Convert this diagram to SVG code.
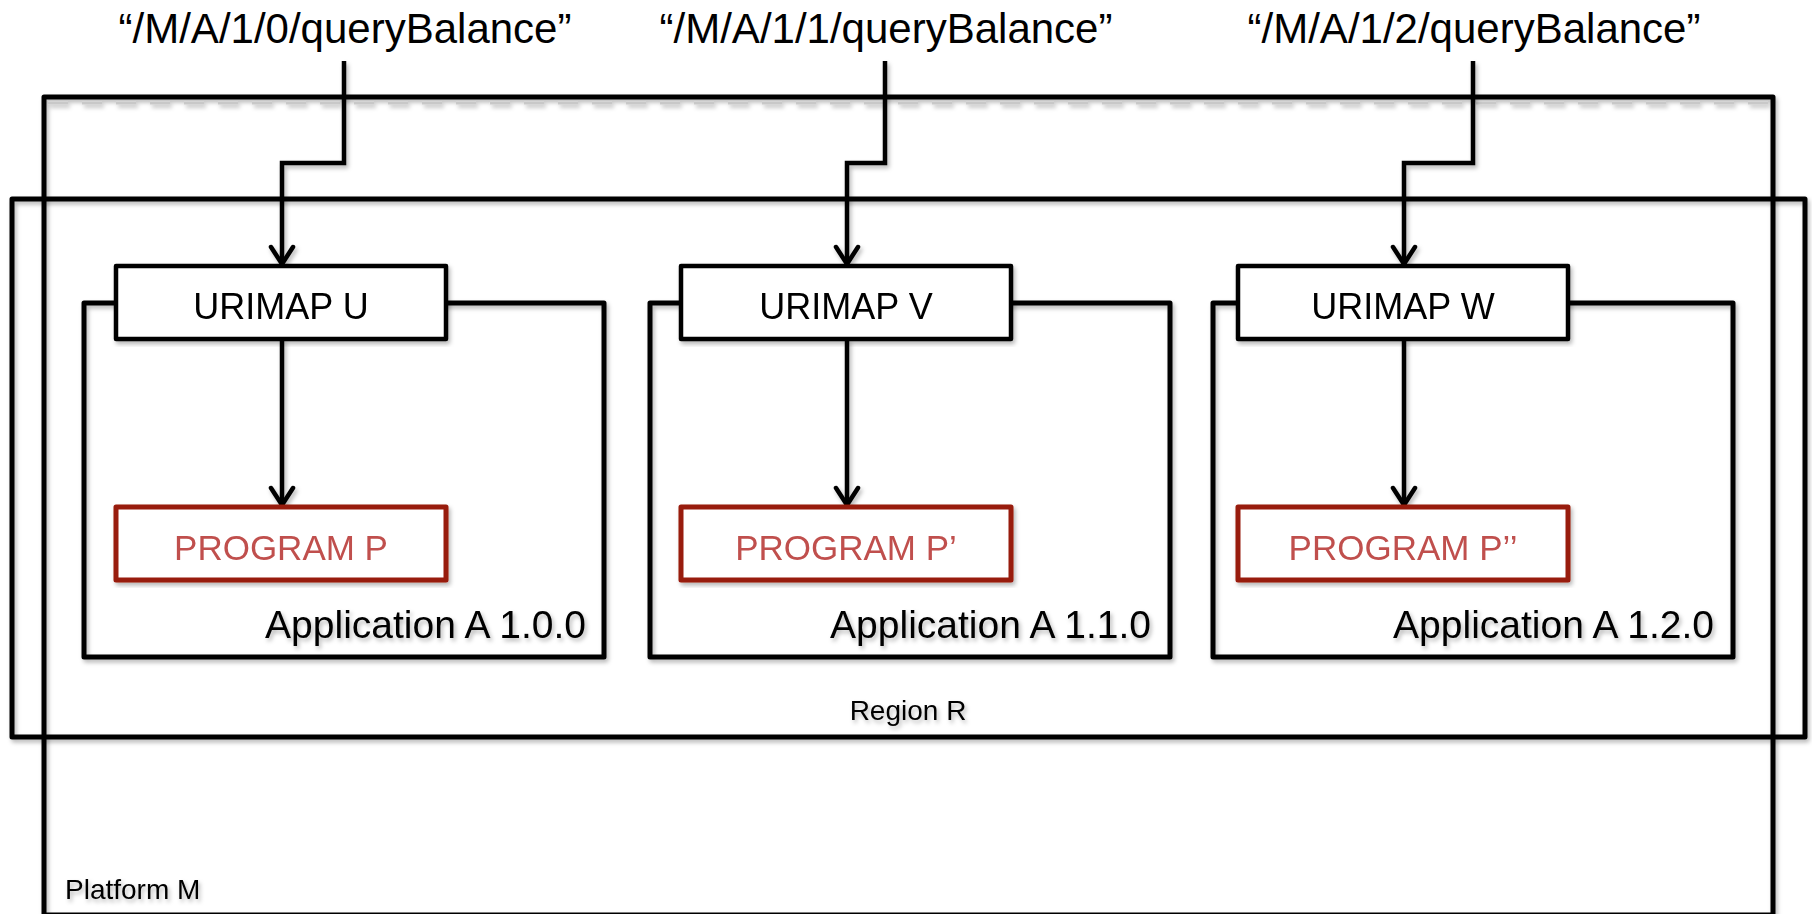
<svg xmlns="http://www.w3.org/2000/svg" width="1812" height="914" viewBox="0 0 1812 914">
  <style>
    text { font-family: "Liberation Sans", Arial, sans-serif; fill: #000; }
    .frame { fill: none; stroke: #000; stroke-width: 5; stroke-linejoin: round; }
    .app { fill: none; stroke: #000; stroke-width: 5; stroke-linejoin: round; }
    .uri { fill: #fff; stroke: #000; stroke-width: 4.5; stroke-linejoin: round; }
    .prog { fill: #fff; stroke: #981a0c; stroke-width: 5; stroke-linejoin: round; }
    .conn { fill: none; stroke: #000; stroke-width: 4.5; stroke-linejoin: miter; }
    .url { font-size: 42px; text-anchor: middle; }
    .uritxt { font-size: 36px; text-anchor: middle; }
    .progtxt { font-size: 35px; text-anchor: middle; fill: #c0504d; }
    .apptxt { font-size: 39px; text-anchor: end; }
    .small { font-size: 28px; }
    .sh { filter: url(#shadow); }
  </style>
  <defs>
    <filter id="shadow" x="-5%" y="-5%" width="110%" height="115%">
      <feDropShadow dx="2" dy="3" stdDeviation="2" flood-color="#000" flood-opacity="0.28"/>
    </filter>
    <marker id="arrow" markerUnits="userSpaceOnUse" viewBox="-22 -14 26 28" refX="0" refY="0" markerWidth="26" markerHeight="28" orient="auto">
      <path d="M-17,-11 L0,0 L-17,11" fill="none" stroke="#000" stroke-width="4.5" stroke-linecap="round" stroke-linejoin="miter"/>
    </marker>
  </defs>
  <rect width="1812" height="914" fill="#fff"/>

  <g id="platform-m" class="sh">
    <line x1="48" y1="103" x2="1770" y2="103" stroke="#c8c8c8" stroke-width="3" stroke-dasharray="20 14"/>
    <rect class="frame" x="44" y="97" width="1729" height="818"/>
    <text class="small" x="65" y="899">Platform M</text>
  </g>

  <g id="region-r" class="sh">
    <rect class="frame" x="12" y="199" width="1793" height="538"/>
    <text class="small" x="908" y="720" text-anchor="middle">Region R</text>
  </g>

  <g id="app-a-100" class="sh">
    <rect class="app" x="84" y="303" width="520" height="354"/>
    <text class="apptxt" x="586" y="638">Application A 1.0.0</text>
  </g>
  <g id="app-a-110" class="sh">
    <rect class="app" x="650" y="303" width="520" height="354"/>
    <text class="apptxt" x="1151" y="638">Application A 1.1.0</text>
  </g>
  <g id="app-a-120" class="sh">
    <rect class="app" x="1213" y="303" width="520" height="354"/>
    <text class="apptxt" x="1714" y="638">Application A 1.2.0</text>
  </g>

  <g id="url-0"><text class="url" x="345" y="43">“/M/A/1/0/queryBalance”</text></g>
  <g id="url-1"><text class="url" x="886" y="43">“/M/A/1/1/queryBalance”</text></g>
  <g id="url-2"><text class="url" x="1474" y="43">“/M/A/1/2/queryBalance”</text></g>

  <g id="connectors" class="sh">
    <path class="conn" d="M344,61 V163 H282 V264" marker-end="url(#arrow)"/>
    <path class="conn" d="M885,61 V163 H847 V264" marker-end="url(#arrow)"/>
    <path class="conn" d="M1473,61 V163 H1404 V264" marker-end="url(#arrow)"/>
    <path class="conn" d="M282,339 V505" marker-end="url(#arrow)"/>
    <path class="conn" d="M847,339 V505" marker-end="url(#arrow)"/>
    <path class="conn" d="M1404,339 V505" marker-end="url(#arrow)"/>
  </g>

  <g id="urimap-u" class="sh">
    <rect class="uri" x="116" y="266" width="330" height="73"/>
    <text class="uritxt" x="281" y="319">URIMAP U</text>
  </g>
  <g id="urimap-v" class="sh">
    <rect class="uri" x="681" y="266" width="330" height="73"/>
    <text class="uritxt" x="846" y="319">URIMAP V</text>
  </g>
  <g id="urimap-w" class="sh">
    <rect class="uri" x="1238" y="266" width="330" height="73"/>
    <text class="uritxt" x="1403" y="319">URIMAP W</text>
  </g>

  <g id="program-p" class="sh">
    <rect class="prog" x="116" y="507" width="330" height="73"/>
    <text class="progtxt" x="281" y="560">PROGRAM P</text>
  </g>
  <g id="program-p1" class="sh">
    <rect class="prog" x="681" y="507" width="330" height="73"/>
    <text class="progtxt" x="846" y="560">PROGRAM P’</text>
  </g>
  <g id="program-p2" class="sh">
    <rect class="prog" x="1238" y="507" width="330" height="73"/>
    <text class="progtxt" x="1403" y="560">PROGRAM P’’</text>
  </g>
</svg>
